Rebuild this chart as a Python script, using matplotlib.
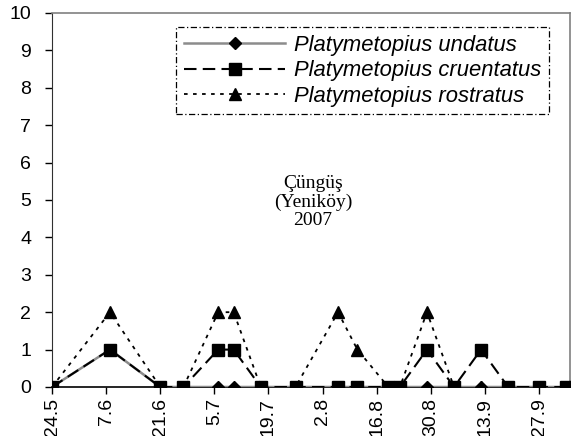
import numpy as np
import matplotlib
matplotlib.use("Agg")
import matplotlib.pyplot as plt
import matplotlib.dates as mdates
from datetime import date, timedelta

# sampling dates (2007) and counts per species
DATES = [
    "2007-05-24", "2007-06-08", "2007-06-21", "2007-06-27", "2007-07-06",
    "2007-07-10", "2007-07-17", "2007-07-26", "2007-08-06", "2007-08-11",
    "2007-08-19", "2007-08-22", "2007-08-29", "2007-09-05", "2007-09-12",
    "2007-09-19", "2007-09-27", "2007-10-04",
]
UNDATUS = [0, 1, 0, 0, 0, 0, 0, 0, 0, 0, 0, 0, 0, 0, 0, 0, 0, 0]
CRUENTATUS = [0, 1, 0, 0, 1, 1, 0, 0, 0, 0, 0, 0, 1, 0, 1, 0, 0, 0]
ROSTRATUS = [0, 2, 0, 0, 2, 2, 0, 0, 2, 1, 0, 0, 2, 0, 0, 0, 0, 0]

LABELS = ["Platymetopius undatus", "Platymetopius cruentatus",
          "Platymetopius rostratus"]
SITE_TEXT = "Çüngüş\n(Yeniköy)\n2007"

plt.rcParams["font.family"] = ["Liberation Sans", "DejaVu Sans"]

x = np.array(DATES, dtype="datetime64[D]")

fig = plt.figure(figsize=(5.74, 4.36), dpi=100)
ax = fig.add_axes([0.0906, 0.1124, 0.9024, 0.8578])

ax.plot(x, ROSTRATUS, color="black", lw=1.3, ls=(0, (2, 3)),
        marker="^", ms=9, mfc="black", mec="black", zorder=3,
        label=LABELS[2])
ax.plot(x, UNDATUS, color="#8c8c8c", lw=1.8, ls="-",
        marker="D", ms=6.5, mfc="black", mec="black", zorder=4,
        label=LABELS[0])
ax.plot(x, CRUENTATUS, color="black", lw=1.5, ls=(0, (6, 3)),
        marker="s", ms=8, mfc="black", mec="black", zorder=5,
        label=LABELS[1])

start = date(2007, 5, 24)
ax.set_xlim(start, date(2007, 10, 5))
ax.set_ylim(0, 10)
ax.set_yticks(range(0, 11))
ticks = [start + timedelta(days=14 * i) for i in range(10)]
ax.set_xticks(ticks)
ax.xaxis.set_major_formatter(
    matplotlib.ticker.FuncFormatter(
        lambda v, p: "{}.{}".format(mdates.num2date(v).day,
                                    mdates.num2date(v).month)))
for lab in ax.get_xticklabels():
    lab.set_rotation(90)
ax.tick_params(axis="both", labelsize=14, direction="out", length=5,
               width=1, colors="black")
ax.tick_params(axis="x", pad=3)
ax.tick_params(axis="y", pad=10)

for side in ("top", "right"):
    ax.spines[side].set_color("#808080")
    ax.spines[side].set_linewidth(1.2)
ax.spines["left"].set_color("#303030")
ax.spines["bottom"].set_color("black")
ax.spines["bottom"].set_linewidth(1.2)

ax.text(0.504, 0.495, SITE_TEXT, transform=ax.transAxes, ha="center",
        va="center", fontsize=14, family="Liberation Serif", linespacing=1.1)

# legend order as in the original: undatus, cruentatus, rostratus
handles, labs = ax.get_legend_handles_labels()
order = [1, 2, 0]
leg = ax.legend([handles[i] for i in order], [labs[i] for i in order],
                loc="upper right", bbox_to_anchor=(0.959, 0.962),
                borderaxespad=0, fancybox=False, framealpha=1,
                edgecolor="black", handlelength=4.6, handletextpad=0.4,
                labelspacing=0.2, borderpad=0.35, numpoints=1,
                prop={"style": "italic", "size": 15.8})
leg.get_frame().set_linestyle((0, (5, 2, 1, 2)))
leg.get_frame().set_linewidth(0.9)

fig.savefig("out.png", dpi=100)
